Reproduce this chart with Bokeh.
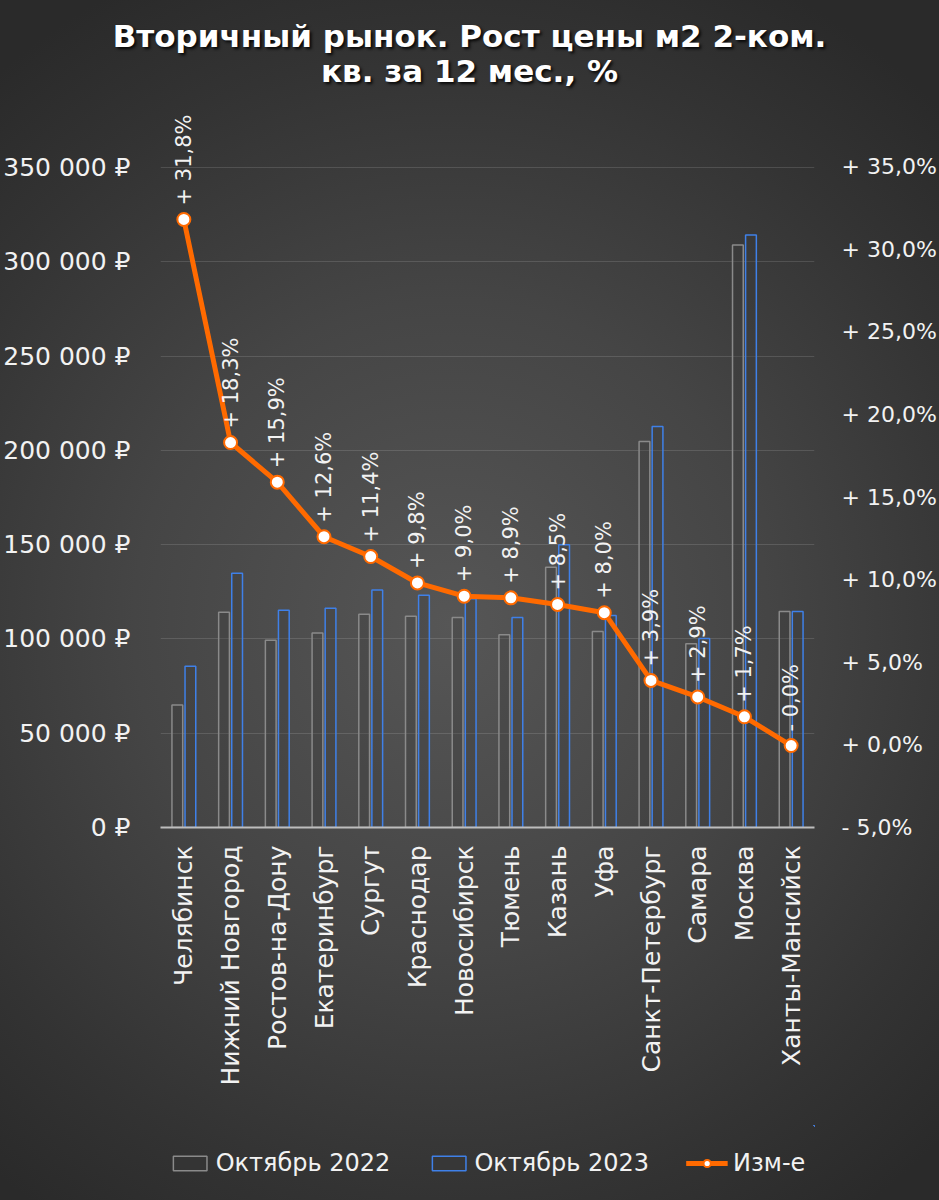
from math import pi
from bokeh.plotting import figure
from bokeh.layouts import column
from bokeh.models import (FactorRange, Range1d, LinearAxis, FixedTicker, ColumnDataSource,
                          Legend, LegendItem, Div)
from bokeh.transform import dodge
from bokeh.core.properties import value
from bokeh.embed import file_html
from bokeh.resources import INLINE

# ---------------- data ----------------
cities = ["Челябинск", "Нижний Новгород", "Ростов-на-Дону", "Екатеринбург", "Сургут",
          "Краснодар", "Новосибирск", "Тюмень", "Казань", "Уфа", "Санкт-Петербург",
          "Самара", "Москва", "Ханты-Мансийск"]
oct_2022 = [65000, 114200, 99300, 103200, 113100, 112000, 111300, 102200, 138000,
            103900, 204700, 97400, 308900, 114500]
oct_2023 = [85500, 134800, 115200, 116300, 126000, 123200, 121300, 111300, 149900,
            112400, 212600, 100200, 314200, 114500]
change_pct = [31.8, 18.3, 15.9, 12.6, 11.4, 9.8, 9.0, 8.9, 8.5, 8.0, 3.9, 2.9, 1.7, -0.04]

left_ticks = [0, 50000, 100000, 150000, 200000, 250000, 300000, 350000]
right_ticks = [-5, 0, 5, 10, 15, 20, 25, 30, 35]
series_names = ["Октябрь 2022", "Октябрь 2023", "Изм-е"]
title_lines = ["Вторичный рынок. Рост цены м2 2-ком.", "кв. за 12 мес., %"]

# ---------------- helpers ----------------
def rub(v):
    return f"{v:,}".replace(",", " ") + " ₽"

def pct(v):
    sign = "+" if v >= 0 else "-"
    return f"{sign} {abs(v):.1f}%".replace(".", ",")

FONT = "DejaVu Sans"
TXT = "#f2f2f2"
GRAY = "#8a8a8a"
BLUE = "#3f80e8"
ORANGE = "#ff6a00"
BAR_FILL = dict(fill_color="#3a3a3a", fill_alpha=0.3)

src = ColumnDataSource(dict(city=cities, y22=oct_2022, y23=oct_2023, pct=change_pct,
                            lbl=[pct(v) for v in change_pct]))

# ---------------- title ----------------
title_div = Div(
    text=("<div style=\"width:939px;text-align:center;font-family:'DejaVu Sans';"
          "font-weight:bold;font-size:31px;line-height:35px;color:#ffffff;"
          "padding-top:19px;text-shadow:2px 2px 3px rgba(0,0,0,0.85);\">"
          + "<br>".join(title_lines) + "</div>"),
    width=939, height=100, margin=(0, 0, 0, 0))

# ---------------- main chart ----------------
p = figure(x_range=FactorRange(*cities), y_range=Range1d(0, 385530),
           width=939, height=1025, output_backend="svg", toolbar_location=None,
           min_border_left=160, min_border_right=123, min_border_top=0,
           min_border_bottom=298)
p.extra_y_ranges = {"pct": Range1d(-5, 39.0)}
p.background_fill_alpha = 0
p.border_fill_alpha = 0
p.outline_line_color = None

b22 = p.vbar(x=dodge("city", -0.14, range=p.x_range), top="y22", width=0.23, source=src,
             line_color=GRAY, line_width=1.5, **BAR_FILL)
b23 = p.vbar(x=dodge("city", 0.14, range=p.x_range), top="y23", width=0.23, source=src,
             line_color=BLUE, line_width=1.5, **BAR_FILL)

p.line(x="city", y="pct", source=src, y_range_name="pct", line_color=ORANGE, line_width=5)
p.scatter(x="city", y="pct", source=src, y_range_name="pct", size=13,
          fill_color="white", line_color=ORANGE, line_width=2)
p.text(x="city", y="pct", text="lbl", source=src, y_range_name="pct", angle=pi / 2,
       text_align="left", text_baseline="middle", y_offset=-14,
       text_font=value(FONT), text_font_size="21px", text_color=TXT)

xa = p.xaxis[0]
xa.major_label_orientation = pi / 2
xa.major_tick_line_color = None
xa.axis_line_color = "#bdbdbd"
xa.axis_line_width = 2
xa.major_label_standoff = 12
xa.major_label_text_font = FONT
xa.major_label_text_font_size = "25px"
xa.major_label_text_color = TXT

ya = p.yaxis[0]
ya.ticker = FixedTicker(ticks=left_ticks)
ya.major_label_overrides = {v: rub(v) for v in left_ticks}
ya.axis_line_color = None
ya.major_tick_line_color = None
ya.minor_tick_line_color = None
ya.major_label_standoff = 24
ya.major_label_text_font = FONT
ya.major_label_text_font_size = "25px"
ya.major_label_text_color = TXT

ra = LinearAxis(y_range_name="pct", ticker=FixedTicker(ticks=right_ticks))
ra.major_label_overrides = {v: pct(v) for v in right_ticks}
ra.axis_line_color = None
ra.major_tick_line_color = None
ra.minor_tick_line_color = None
ra.major_label_standoff = 21
ra.major_label_text_font = FONT
ra.major_label_text_font_size = "22px"
ra.major_label_text_color = TXT
p.add_layout(ra, "right")

p.xgrid.grid_line_color = None
p.ygrid.ticker = FixedTicker(ticks=left_ticks)
p.ygrid.grid_line_color = "white"
p.ygrid.grid_line_alpha = 0.13

# ---------------- legend strip ----------------
# the series are re-used here only as legend proxies; they are shifted far
# outside the strip's ranges, so nothing but the legend is visible here
pl = figure(width=939, height=75, x_range=FactorRange(*cities),
            y_range=Range1d(-2, -1),
            output_backend="svg", toolbar_location=None,
            min_border_left=0, min_border_right=44, min_border_top=0, min_border_bottom=0,
            x_axis_location=None, y_axis_location=None)
pl.extra_y_ranges = {"pct": Range1d(-200, -199)}
pl.background_fill_alpha = 0
pl.border_fill_alpha = 0
pl.outline_line_color = None
pl.grid.grid_line_color = None
far = dodge("city", 100, range=pl.x_range)
k22 = pl.vbar(x=far, top="y22", bottom="y23", width=0.23, source=src, line_color=GRAY,
              line_width=1.5, **BAR_FILL)
k23 = pl.vbar(x=far, top="y23", bottom="y22", width=0.23, source=src, line_color=BLUE,
              line_width=1.5, **BAR_FILL)
kln = pl.line(x=far, y="pct", source=src, y_range_name="pct", line_color=ORANGE,
              line_width=5)
kpt = pl.scatter(x=far, y="pct", source=src, y_range_name="pct", size=13,
                 fill_color="white", line_color=ORANGE, line_width=2)
legend = Legend(items=[LegendItem(label=series_names[0], renderers=[k22]),
                       LegendItem(label=series_names[1], renderers=[k23]),
                       LegendItem(label=series_names[2], renderers=[kln, kpt])],
                orientation="horizontal", location="center",
                background_fill_alpha=0, border_line_color=None,
                label_text_font=FONT, label_text_font_size="24px", label_text_color=TXT,
                glyph_width=42, glyph_height=18, label_standoff=5, spacing=37,
                margin=0, padding=0)
pl.add_layout(legend, "center")

layout = column(title_div, p, pl, spacing=0)
layout.styles = {"background": "radial-gradient(ellipse 75% 60% at 48% 52%, #565656 0%, "
                               "#454545 45%, #333333 80%, #2a2a2a 100%)"}

html = file_html(layout, INLINE, title="chart")
html = html.replace("<body>", '<body style="margin:0;overflow:hidden;background:#2b2b2b">')
open("out.html", "w").write(html)
